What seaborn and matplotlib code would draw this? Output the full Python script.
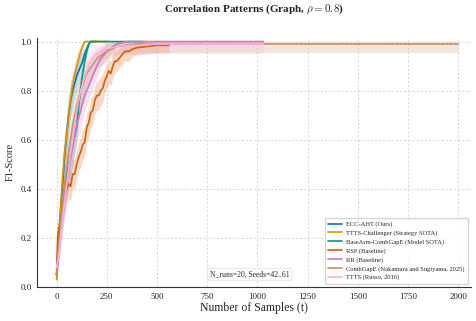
import numpy as np
import pandas as pd
import matplotlib
matplotlib.use("Agg")
import matplotlib.pyplot as plt
import seaborn as sns

# Method names as shown in the legend
methods = [
    "ECC-AHT (Ours)",
    "TTTS-Challenger (Strategy SOTA)",
    "BaseArm-CombGapE (Model SOTA)",
    "RSP (Baseline)",
    "RR (Baseline)",
    "CombGapE (Nakamura and Sugiyama, 2025)",
    "TTTS (Russo, 2016)",
]

# Mean F1 curves and band half-widths
ecc_x = [0, 10, 20, 30, 40, 50, 60, 70, 80, 90, 100, 110, 120, 130, 140, 150, 160, 170, 200]
ecc_y = [0.05, 0.20, 0.31, 0.42, 0.53, 0.62, 0.70, 0.76, 0.80, 0.83, 0.86, 0.88, 0.90, 0.92, 0.95, 0.97, 0.99, 1.0, 1.0]
ecc_w = [0.03, 0.06, 0.07, 0.08, 0.08, 0.08, 0.08, 0.07, 0.07, 0.06, 0.06, 0.05, 0.05, 0.04, 0.03, 0.02, 0.01, 0.0, 0.0]

ttc_x = [0, 10, 20, 30, 40, 50, 60, 70, 80, 90, 100, 110, 120, 130, 140, 250]
ttc_y = [0.03, 0.20, 0.33, 0.45, 0.55, 0.62, 0.70, 0.77, 0.82, 0.86, 0.90, 0.93, 0.96, 0.98, 1.0, 1.0]
ttc_w = [0.03, 0.06, 0.07, 0.08, 0.08, 0.08, 0.07, 0.07, 0.06, 0.05, 0.05, 0.04, 0.03, 0.02, 0.0, 0.0]

bac_x = [0, 20, 40, 60, 80, 100, 110, 120, 130, 140, 150, 160, 170, 430]
bac_y = [0.05, 0.25, 0.40, 0.50, 0.58, 0.65, 0.74, 0.81, 0.87, 0.92, 0.96, 0.99, 1.0, 1.0]
bac_w = [0.03, 0.06, 0.07, 0.08, 0.08, 0.07, 0.06, 0.05, 0.04, 0.03, 0.02, 0.01, 0.0, 0.0]

rsp_x = [0, 5, 10, 20, 30, 40, 50, 60, 70, 80, 90, 100, 110, 120, 130, 140, 150, 160, 170, 180,
         190, 200, 210, 220, 230, 240, 250, 260, 270, 280, 290, 300, 320, 340, 360, 380, 400, 450, 500, 560]
rsp_y = [0.05, 0.20, 0.24, 0.25, 0.30, 0.36, 0.40, 0.42, 0.41, 0.46, 0.46, 0.50, 0.53, 0.55, 0.58, 0.59, 0.65, 0.67, 0.71, 0.72,
         0.76, 0.78, 0.78, 0.80, 0.81, 0.84, 0.86, 0.88, 0.87, 0.90, 0.92, 0.92, 0.94, 0.96, 0.96, 0.97, 0.975, 0.98, 0.985, 0.985]
rsp_w = [0.03, 0.05, 0.06, 0.06, 0.06, 0.06, 0.06, 0.06, 0.06, 0.06, 0.06, 0.06, 0.06, 0.06, 0.06, 0.06, 0.06, 0.06, 0.06, 0.06,
         0.06, 0.06, 0.06, 0.06, 0.06, 0.05, 0.05, 0.05, 0.05, 0.05, 0.05, 0.04, 0.04, 0.04, 0.04, 0.03, 0.03, 0.03, 0.03, 0.03]

rr_x = [0, 10, 20, 30, 40, 50, 60, 70, 80, 90, 100, 120, 140, 160, 180, 200, 220, 250, 280, 300, 350, 1030]
rr_y = [0.07, 0.15, 0.22, 0.30, 0.36, 0.42, 0.47, 0.52, 0.57, 0.62, 0.66, 0.72, 0.78, 0.82, 0.86, 0.90, 0.93, 0.96, 0.98, 0.99, 1.0, 1.0]
rr_w = [0.03, 0.05, 0.06, 0.07, 0.07, 0.07, 0.07, 0.07, 0.07, 0.07, 0.07, 0.07, 0.06, 0.06, 0.05, 0.05, 0.04, 0.03, 0.02, 0.01, 0.0, 0.0]

cge_x = [0, 20, 40, 60, 80, 100, 120, 150, 200, 250, 300, 400, 2000]
cge_y = [0.05, 0.25, 0.42, 0.55, 0.66, 0.74, 0.80, 0.87, 0.93, 0.96, 0.98, 0.99, 0.99]
cge_w = [0.03, 0.06, 0.07, 0.07, 0.07, 0.07, 0.06, 0.05, 0.04, 0.035, 0.035, 0.035, 0.035]

tts_x = [0, 10, 20, 30, 40, 50, 60, 70, 80, 90, 100, 110, 120, 140, 160, 180, 200, 250, 300, 400, 500, 1030]
tts_y = [0.08, 0.12, 0.20, 0.28, 0.35, 0.42, 0.48, 0.55, 0.60, 0.66, 0.72, 0.76, 0.80, 0.86, 0.90, 0.93, 0.95, 0.97, 0.98, 0.985, 0.99, 0.99]
tts_w = [0.03, 0.05, 0.06, 0.07, 0.07, 0.07, 0.07, 0.07, 0.07, 0.07, 0.07, 0.07, 0.06, 0.06, 0.05, 0.05, 0.04, 0.03, 0.03, 0.035, 0.04, 0.04]

series = [
    (ecc_x, ecc_y, ecc_w),
    (ttc_x, ttc_y, ttc_w),
    (bac_x, bac_y, bac_w),
    (rsp_x, rsp_y, rsp_w),
    (rr_x, rr_y, rr_w),
    (cge_x, cge_y, cge_w),
    (tts_x, tts_y, tts_w),
]

sns.set_style("whitegrid", {"grid.linestyle": (0, (2.5, 2.5)), "grid.color": "#d0d0d0"})
plt.rcParams["font.family"] = ["Liberation Serif", "DejaVu Serif"]
plt.rcParams["mathtext.fontset"] = "cm"
plt.rcParams["grid.linewidth"] = 0.6

palette = sns.color_palette("colorblind", 7)

fig = plt.figure(figsize=(4.76, 3.21), dpi=100)
ax = fig.add_axes([0.078, 0.106, 0.912, 0.776])

frames = []
for name, (xs, ys, ws) in zip(methods, series):
    frames.append(pd.DataFrame({"t": xs, "f1": ys, "w": ws, "method": name}))
df = pd.concat(frames, ignore_index=True)

# confidence bands first, then the mean lines
for name, color in zip(methods, palette):
    d = df[df["method"] == name]
    lo = np.clip(d["f1"] - d["w"], 0, 1)
    hi = np.clip(d["f1"] + d["w"], 0, 1)
    ax.fill_between(d["t"], lo, hi, color=color, alpha=0.22, linewidth=0)

sns.lineplot(data=df, x="t", y="f1", hue="method", hue_order=methods,
             palette=palette, linewidth=1.2, ax=ax, estimator=None, sort=False)

ax.set_xlim(-97, 2065)
ax.set_ylim(0, 1.015)
ax.set_xticks(np.arange(0, 2001, 250))
ax.set_yticks(np.arange(0, 1.01, 0.2))
ax.tick_params(labelsize=6.5, length=2, pad=2)
sns.despine(ax=ax)
for s in ["left", "bottom"]:
    ax.spines[s].set_color("#333333")
    ax.spines[s].set_linewidth(0.8)

ax.set_title(r"Correlation Patterns (Graph, $\rho = 0.8$)", fontsize=8, fontweight="bold", pad=19)
ax.set_xlabel("Number of Samples (t)", fontsize=8.5, labelpad=1)
ax.set_ylabel("F1-Score", fontsize=7.5, labelpad=4)

ax.legend(loc="lower right", fontsize=4.7, frameon=True, handlelength=2.2,
          borderpad=0.5, labelspacing=0.45, handletextpad=0.6, title=None)

ax.text(0.49, 0.05, "N_runs=20, Seeds=42..61", transform=ax.transAxes,
        fontsize=5.5, ha="center", va="center",
        bbox=dict(boxstyle="round,pad=0.3", facecolor="white", edgecolor="#dddddd", linewidth=0.5))

fig.savefig("out.png", dpi=100)
